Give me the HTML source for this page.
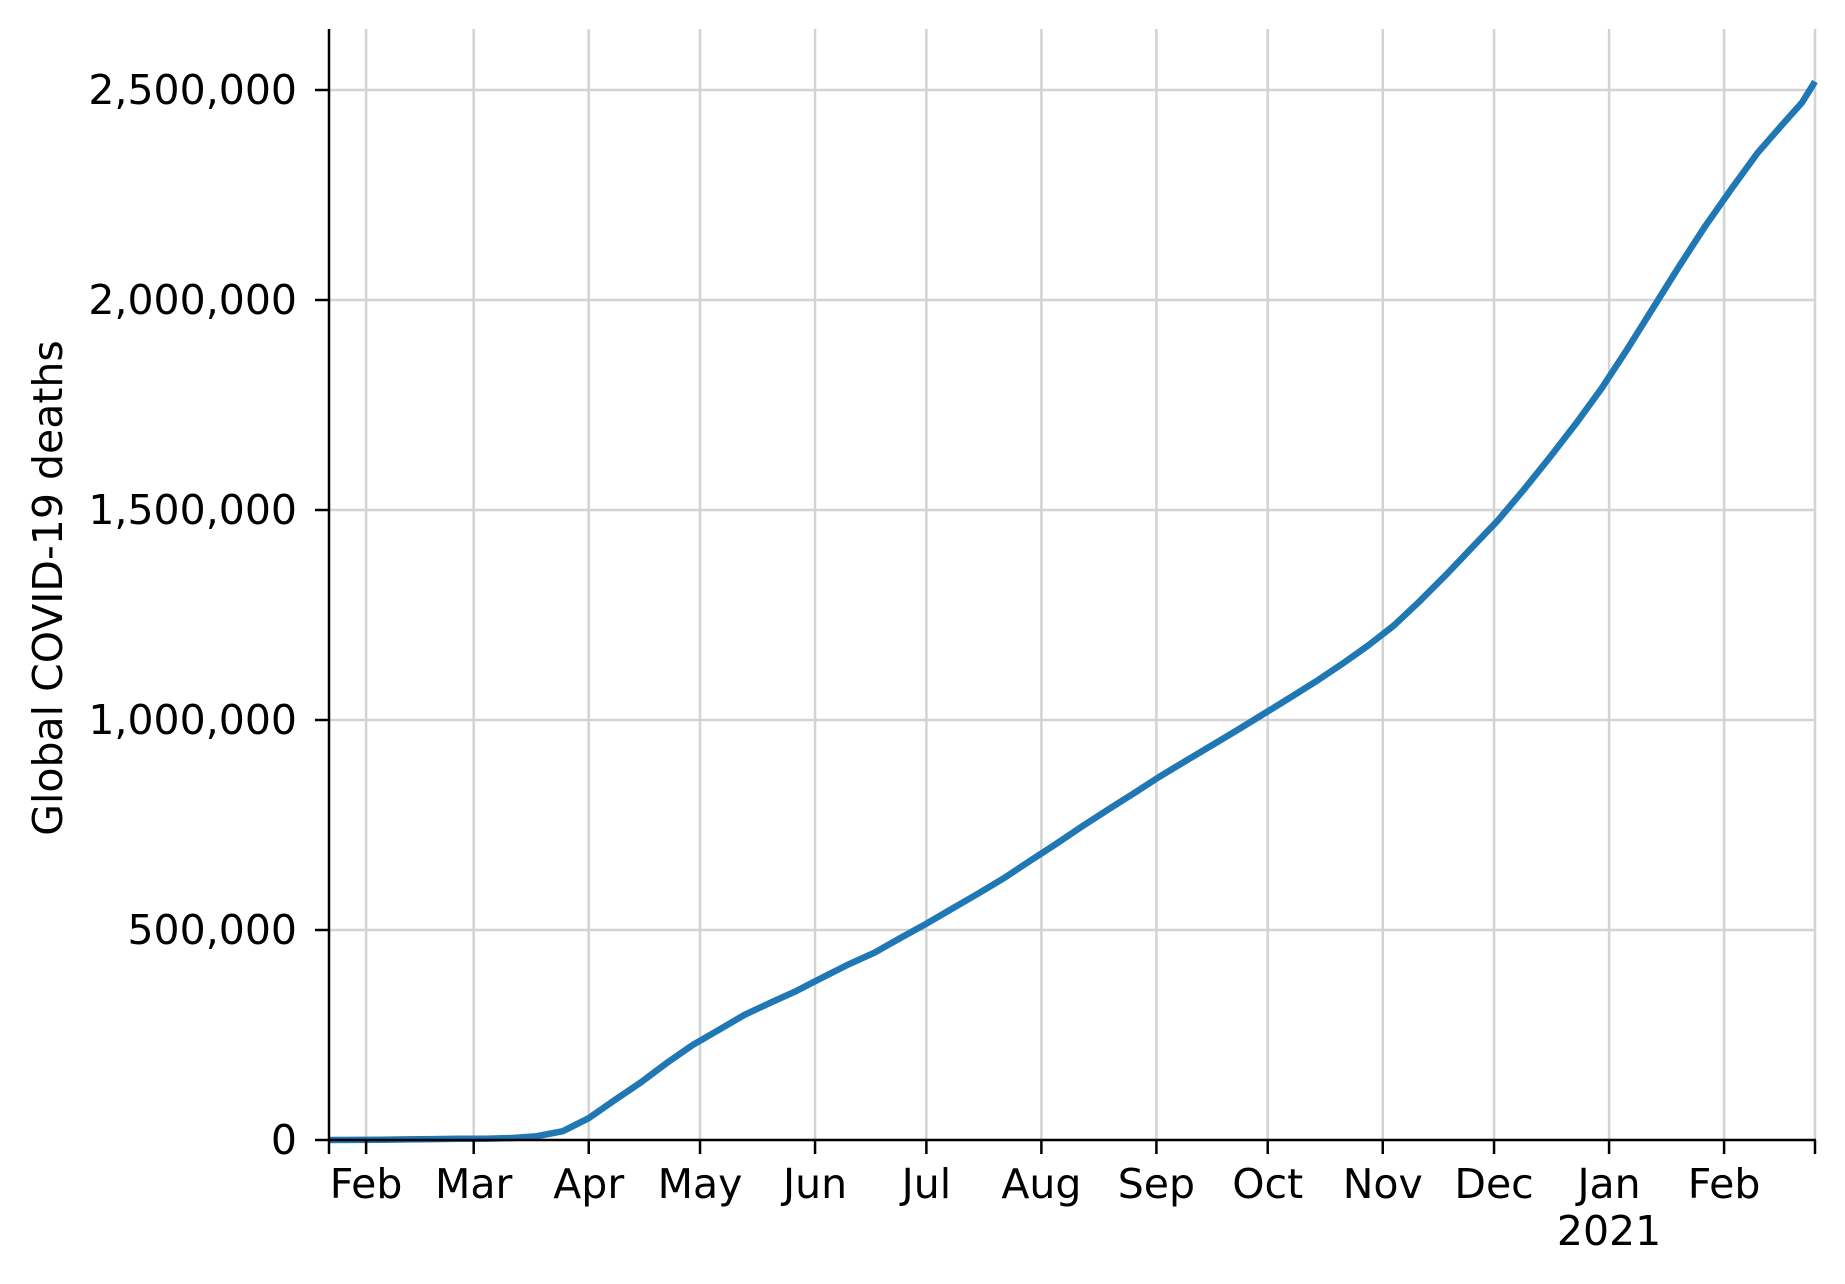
<!DOCTYPE html>
<html><head><meta charset="utf-8"><style>
html,body{margin:0;padding:0;background:#fff;}
svg{display:block;}
text{font-family:"DejaVu Sans","Liberation Sans",sans-serif;fill:#000;}
</style></head><body>
<svg id="chart" width="1845" height="1284" viewBox="0 0 1845 1284" xmlns="http://www.w3.org/2000/svg">
<g id="grid"></g>
<g id="series"></g>
<g id="axes"></g>
<text transform="translate(62,588) rotate(-90)" text-anchor="middle" font-size="41">Global COVID-19 deaths</text>
</svg>
<script>
const dates = ["2020-01-22","2020-01-29","2020-02-05","2020-02-12","2020-02-19","2020-02-26","2020-03-04","2020-03-11","2020-03-18","2020-03-25","2020-04-01","2020-04-08","2020-04-15","2020-04-22","2020-04-29","2020-05-06","2020-05-13","2020-05-20","2020-05-27","2020-06-03","2020-06-10","2020-06-17","2020-06-24","2020-07-01","2020-07-08","2020-07-15","2020-07-22","2020-07-29","2020-08-05","2020-08-12","2020-08-19","2020-08-26","2020-09-02","2020-09-09","2020-09-16","2020-09-23","2020-09-30","2020-10-07","2020-10-14","2020-10-21","2020-10-28","2020-11-04","2020-11-11","2020-11-18","2020-11-25","2020-12-02","2020-12-09","2020-12-16","2020-12-23","2020-12-30","2021-01-06","2021-01-13","2021-01-20","2021-01-27","2021-02-03","2021-02-10","2021-02-17","2021-02-22","2021-02-25T12:00:00"];
const deaths = [17,170,565,1370,2120,2800,3200,4600,9000,21000,52000,95000,137000,183000,226000,262000,298000,327000,355000,387000,418000,446000,481000,515000,551000,587000,624000,665000,705000,747000,787000,826000,866000,903000,940000,977000,1015000,1053000,1092000,1133000,1177000,1225000,1283000,1345000,1410000,1475000,1548000,1625000,1705000,1790000,1884000,1983000,2082000,2177000,2265000,2350000,2421000,2470000,2520000];
const yTicks = [0,500000,1000000,1500000,2000000,2500000];
const yTickLabels = ["0","500,000","1,000,000","1,500,000","2,000,000","2,500,000"];
const xTickDates = ["2020-02-01","2020-03-01","2020-04-01","2020-05-01","2020-06-01","2020-07-01","2020-08-01","2020-09-01","2020-10-01","2020-11-01","2020-12-01","2021-01-01","2021-02-01"];
const xTickLabels = ["Feb","Mar","Apr","May","Jun","Jul","Aug","Sep","Oct","Nov","Dec","Jan","Feb"];

const NS="http://www.w3.org/2000/svg";
const L=329,R=1815,T=29,B=1140;
const d0=Date.parse("2020-01-22"), d1=Date.parse("2021-02-25T12:00:00");
function xs(d){return L+(Date.parse(d)-d0)/(d1-d0)*(R-L);}
function ys(v){return B-v/2500000*(B-90);}
function mk(tag,attrs,parent){const e=document.createElementNS(NS,tag);for(const k in attrs)e.setAttribute(k,attrs[k]);parent.appendChild(e);return e;}
const grid=document.getElementById('grid'),axes=document.getElementById('axes'),series=document.getElementById('series');

yTicks.forEach((v,i)=>{
  const y=ys(v);
  const g=mk('line',{x1:L,x2:R,y1:y,y2:y,stroke:'#d3d3d3','stroke-width':2.5},grid);
  
  
  const t=mk('line',{x1:L-14,x2:L,y1:y,y2:y,stroke:'#000','stroke-width':2.5},axes);
  
  
  const tx=mk('text',{x:297,y:y+14,'text-anchor':'end','font-size':41},axes);
  tx.textContent=yTickLabels[i];
  
  
});
xTickDates.forEach((d,i)=>{
  const x=xs(d);
  const g=mk('line',{x1:x,x2:x,y1:T,y2:B,stroke:'#d3d3d3','stroke-width':2.5},grid);
  
  
  const t=mk('line',{x1:x,x2:x,y1:B,y2:B+14,stroke:'#000','stroke-width':2.5},axes);
  
  
  const tx=mk('text',{x:x,y:1198,'text-anchor':'middle','font-size':41},axes);
  tx.textContent=xTickLabels[i];
  
  
});
[L,R].forEach(x=>{
  const t=mk('line',{x1:x,x2:x,y1:B,y2:B+14,stroke:'#000','stroke-width':2.5},axes);
  
  
});
const yr=mk('text',{x:xs("2021-01-01"),y:1245,'text-anchor':'middle','font-size':41},axes);
yr.textContent="2021";


const gr=mk('line',{x1:R,x2:R,y1:T,y2:B,stroke:'#d3d3d3','stroke-width':2.5},grid);



const p=mk('polyline',{points:dates.map((d,i)=>xs(d).toFixed(1)+','+ys(deaths[i]).toFixed(1)).join(' '),fill:'none',stroke:'#1f77b4','stroke-width':6.5,'stroke-linejoin':'round','stroke-linecap':'butt'},series);



const ls=mk('line',{x1:L,x2:L,y1:T,y2:B+1,stroke:'#000','stroke-width':2.5},axes);


const bs=mk('line',{x1:L-1,x2:R+1,y1:B,y2:B,stroke:'#000','stroke-width':2.5},axes);


</script>
</body></html>
